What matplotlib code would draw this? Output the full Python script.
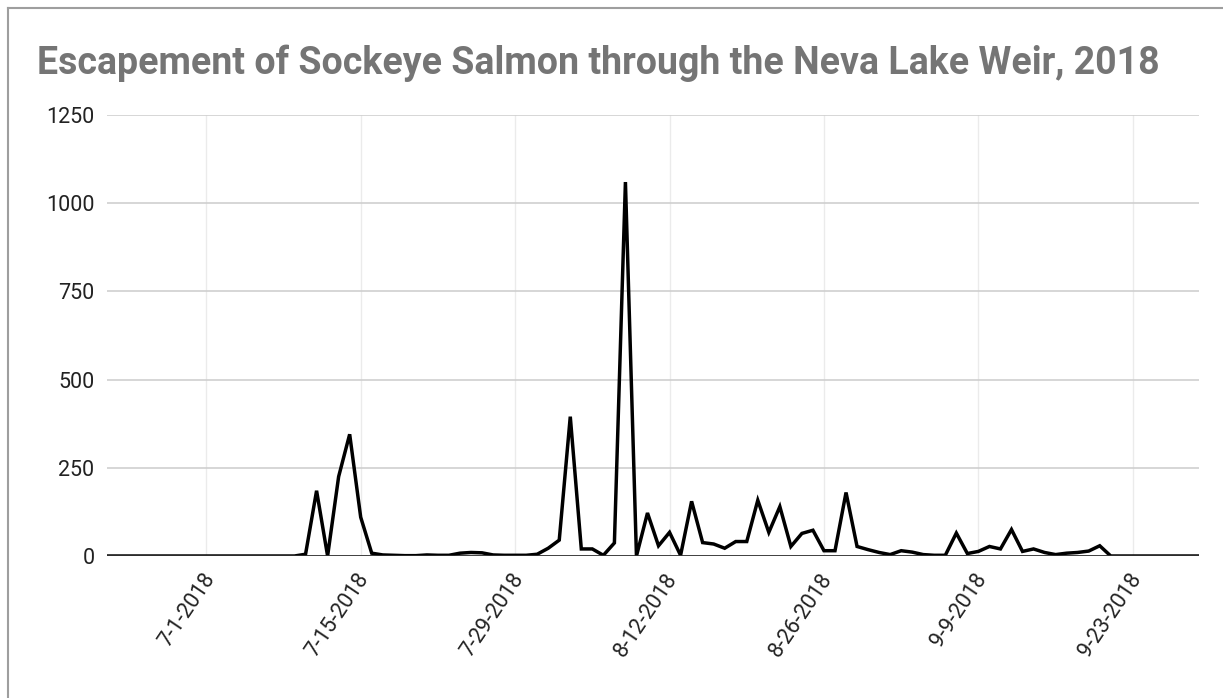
import numpy as np
import matplotlib
matplotlib.use("Agg")
import matplotlib.pyplot as plt
import matplotlib.transforms as mtransforms
from matplotlib.lines import Line2D

plt.rcParams['font.family'] = ['Roboto', 'DejaVu Sans']

# daily counts, 6-22-2018 .. 9-29-2018
start_day = np.datetime64('2018-06-22')
june_jul9 = [0] * 18                      # 6-22 .. 7-9
july = [5, 185, 0, 225, 345, 110, 8, 3, 2, 1, 1, 3, 2, 2, 8, 10, 9, 3, 2,
        2, 2, 5]                          # 7-10 .. 7-31
august = [22, 45, 395, 20, 20, 2, 37, 1060, 0, 122, 29, 67, 2, 155, 38, 34,
          22, 41, 41, 158, 67, 140, 27, 64, 73, 15, 15, 180, 27, 18, 10]
september = [4, 15, 11, 4, 2, 2, 65, 7, 13, 27, 20, 75, 13, 20, 10, 4, 8,
             10, 14, 29, 0, 0, 0, 0, 0, 0, 0, 0, 0]   # 9-1 .. 9-29
counts = june_jul9 + july + august + september
days = start_day + np.arange(len(counts))

tick_dates = ['2018-07-01', '2018-07-15', '2018-07-29', '2018-08-12',
              '2018-08-26', '2018-09-09', '2018-09-23']
y_ticks = [0, 250, 500, 750, 1000, 1250]

W, H = 1223, 698
fig = plt.figure(figsize=(W / 100, H / 100), dpi=100)
ax = fig.add_axes([107 / W, (H - 556) / H, 1092 / W, 441 / H])

ax.plot(days, counts, color='black', lw=2.5, solid_joinstyle='miter', zorder=3)

ax.set_xlim(days[0], days[-1])
ax.set_ylim(0, 1250)
ax.set_yticks(y_ticks)
ax.set_yticklabels([str(v) for v in y_ticks])

tdates = [np.datetime64(d) for d in tick_dates]
ax.set_xticks(tdates)
labels = []
for d in tick_dates:
    y, m, dd = d.split('-')
    labels.append('%d-%d-%s' % (int(m), int(dd), y))
ax.set_xticklabels(labels)

ax.grid(axis='y', color='#cccccc', lw=1.1)
ax.grid(axis='x', color='#ebebeb', lw=1.0)
ax.axhline(0, color='#333333', lw=2.0, zorder=4)
for s in ax.spines.values():
    s.set_visible(False)

ax.tick_params(axis='y', length=0, pad=9, labelsize=15.5, labelcolor='#222222')
ax.tick_params(axis='x', length=0, pad=14, labelsize=15.5, labelcolor='#222222')
offset = mtransforms.ScaledTranslation(4 / 100, 0, fig.dpi_scale_trans)
for lab in ax.get_xticklabels():
    lab.set_rotation(56)
    lab.set_ha('right')
    lab.set_va('center')
    lab.set_rotation_mode('anchor')
    lab.set_transform(lab.get_transform() + offset)

fig.text(37 / W, 1 - 74 / H,
         'Escapement of Sockeye Salmon through the Neva Lake Weir, 2018',
         fontsize=27, fontweight='bold', color='#757575', va='baseline')

# outer frame of the screenshot
fig.add_artist(Line2D([8 / W, 8 / W], [0, 1 - 8 / H], transform=fig.transFigure,
                      color='#9e9e9e', lw=1.5))
fig.add_artist(Line2D([8 / W, 1], [1 - 8 / H, 1 - 8 / H], transform=fig.transFigure,
                      color='#9e9e9e', lw=1.5))

fig.savefig('out.png', dpi=100, facecolor='white')
